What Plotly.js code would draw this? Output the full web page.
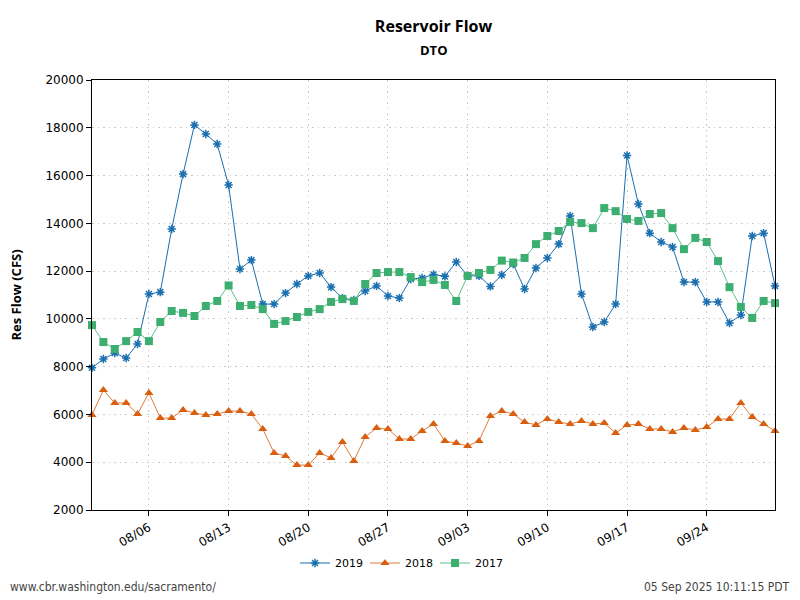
<!DOCTYPE html>
<html>
<head>
<meta charset="utf-8">
<script src="https://cdn.plot.ly/plotly-3.0.1.min.js"></script>
<style>html,body{margin:0;padding:0;background:#fff}#chart{width:800px;height:600px}</style>
</head>
<body>
<div id="chart"></div>
<script>
// Day index 0 = 08/01 ... 60 = 09/30
const startDate = '2019-08-01';
const nDays = 61;

const flow2019 = [7950, 8320, 8570, 8360, 8950, 11040, 11120, 13760, 16060, 18120,
  17740, 17320, 15600, 12090, 12460, 10620, 10620, 11080, 11460, 11800,
  11920, 11330, 10870, 10790, 11170, 11380, 10960, 10870, 11670, 11710,
  11860, 11780, 12380, 11800, 11800, 11360, 11840, 12300, 11250, 12130,
  12550, 13130, 14310, 11040, 9660, 9870, 10620, 16840, 14810, 13590,
  13220, 13010, 11540, 11540, 10710, 10710, 9830, 10160, 13470, 13590, 11380];

const flow2018 = [5980, 7020, 6480, 6480, 6020, 6900, 5850, 5850, 6190, 6060,
  5980, 6020, 6140, 6140, 6020, 5390, 4390, 4260, 3880, 3880,
  4390, 4180, 4850, 4050, 5060, 5430, 5390, 4970, 4970, 5310,
  5600, 4890, 4800, 4680, 4890, 5930, 6140, 6020, 5680, 5560,
  5810, 5680, 5600, 5730, 5600, 5640, 5220, 5560, 5600, 5390,
  5390, 5270, 5430, 5350, 5470, 5810, 5810, 6480, 5890, 5600, 5310];

const flow2017 = [9740, 9030, 8740, 9070, 9450, 9070, 9870, 10330, 10250, 10120,
  10540, 10750, 11400, 10540, 10580, 10410, 9790, 9910, 10080, 10290,
  10410, 10710, 10830, 10750, 11460, 11920, 11960, 11960, 11750, 11540,
  11630, 11420, 10750, 11800, 11920, 12050, 12440, 12360, 12550, 13130,
  13470, 13680, 14060, 14010, 13800, 14640, 14510, 14180, 14100, 14390,
  14430, 13800, 12920, 13390, 13220, 12420, 11330, 10500, 10040, 10750, 10660];

const seriesNames = ['2019', '2018', '2017'];
const yTicks = [2000, 4000, 6000, 8000, 10000, 12000, 14000, 16000, 18000, 20000];

function dayDates() {
  const out = [];
  const base = new Date(startDate + 'T00:00:00Z');
  for (let i = 0; i < nDays; i++) {
    const d = new Date(base.getTime() + i * 86400000);
    out.push(d.toISOString().slice(0, 10));
  }
  return out;
}
const dates = dayDates();

const traces = [
  {x: dates, y: flow2019, name: seriesNames[0], type: 'scatter', mode: 'lines+markers', cliponaxis: false,
   line: {color: '#1a6faf', width: 1},
   marker: {symbol: 'asterisk-open', size: 7, color: '#1a6faf', line: {color: '#1a6faf', width: 1.5}}},
  {x: dates, y: flow2018, name: seriesNames[1], type: 'scatter', mode: 'lines+markers', cliponaxis: false,
   line: {color: '#e07b39', width: 1},
   marker: {symbol: 'triangle-up', size: 8, color: '#d95f0e'}},
  {x: dates, y: flow2017, name: seriesNames[2], type: 'scatter', mode: 'lines+markers', cliponaxis: false,
   line: {color: '#5cc08a', width: 1},
   marker: {symbol: 'square', size: 8, color: '#3cae6f'}}
];

const footFont = {family: 'DejaVu Sans Condensed, DejaVu Sans, sans-serif', size: 12, color: '#444'};

const layout = {
  width: 800, height: 600,
  paper_bgcolor: '#fff', plot_bgcolor: '#fff',
  margin: {l: 92, r: 25, t: 80, b: 90, autoexpand: false},
  title: {
    text: '<b>Reservoir Flow</b>',
    x: 0.5, xanchor: 'center', xref: 'paper', yref: 'container', y: 1 - 26 / 600, yanchor: 'middle',
    font: {family: 'Open Sans, sans-serif', size: 16, color: '#000'}
  },
  xaxis: {
    type: 'date',
    range: ['2019-08-01', '2019-09-30'],
    tick0: '2019-08-06', dtick: 7 * 86400000,
    tickformat: '%m/%d', tickangle: -30,
    ticks: 'outside', ticklen: 5, tickcolor: '#000',
    showline: true, linecolor: '#000', linewidth: 1, mirror: true,
    showgrid: true, gridcolor: '#c8c8c8', griddash: '1.5px,4px', gridwidth: 1,
    zeroline: false,
    tickfont: {family: 'DejaVu Sans, sans-serif', size: 12, color: '#000'}
  },
  yaxis: {
    range: [2000, 20000],
    tickvals: yTicks,
    ticktext: yTicks.map(String),
    ticks: 'outside', ticklen: 5, tickcolor: '#000',
    showline: true, linecolor: '#000', linewidth: 1, mirror: true,
    showgrid: true, gridcolor: '#c8c8c8', griddash: '1.5px,4px', gridwidth: 1,
    zeroline: false,
    tickfont: {family: 'DejaVu Sans, sans-serif', size: 12, color: '#000'},
    title: {text: '<b>Res Flow (CFS)</b>', standoff: 20,
            font: {family: 'Open Sans, sans-serif', size: 13, color: '#000'}}
  },
  showlegend: true,
  legend: {
    orientation: 'h', x: 0.5, xanchor: 'center', xref: 'container',
    yref: 'container', y: 1 - 563 / 600, yanchor: 'middle',
    font: {family: 'DejaVu Sans, sans-serif', size: 11, color: '#000'},
    itemwidth: 30, entrywidth: 25, tracegroupgap: 0
  },
  annotations: [
    {text: '<b>DTO</b>', xref: 'paper', yref: 'paper',
     x: 0.5, y: (510 - 50) / 430, xanchor: 'center', yanchor: 'middle', showarrow: false,
     font: {family: 'Open Sans, sans-serif', size: 13, color: '#000'}},
    {text: 'www.cbr.washington.edu/sacramento/', xref: 'paper', yref: 'paper',
     x: -84 / 683, y: (510 - 587) / 430, xanchor: 'left', yanchor: 'middle', showarrow: false,
     font: footFont},
    {text: '05 Sep 2025 10:11:15 PDT', xref: 'paper', yref: 'paper',
     x: (792 - 92) / 683, y: (510 - 587) / 430, xanchor: 'right', yanchor: 'middle', showarrow: false,
     font: footFont}
  ]
};

Plotly.newPlot('chart', traces, layout, {displayModeBar: false, staticPlot: true});
</script>
</body>
</html>
